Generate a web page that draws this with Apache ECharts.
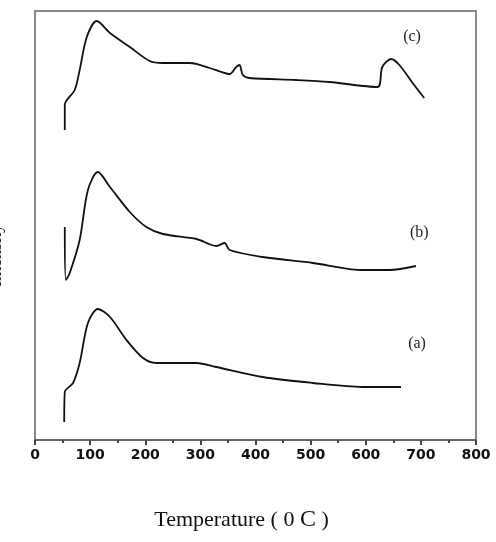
<!DOCTYPE html>
<html>
<head>
<meta charset="utf-8">
<script src="https://cdn.jsdelivr.net/npm/echarts@6/dist/echarts.min.js"></script>
<style>
html, body { margin: 0; padding: 0; background: #fff; }
#chart { width: 496px; height: 542px; }
</style>
</head>
<body>
<div id="chart"></div>
<script>
// temperatures (deg C) and intensity (arbitrary units)
var cTemp = [54, 54, 72, 81, 94, 112, 136, 172, 208, 232, 281, 317, 353, 365, 371, 377, 389, 474, 534, 621, 630, 646, 661, 685, 706]
var cInt = [310, 335, 350, 370, 403, 419, 407, 393, 379, 377, 377, 372, 366, 373, 375, 365, 362, 360, 358, 353, 373, 381, 375, 357, 342]

var bTemp = [54, 56, 63, 81, 96, 114, 136, 172, 202, 232, 293, 329, 344, 353, 413, 504, 594, 643, 691]
var bInt = [213, 160, 167, 200, 250, 268, 253, 228, 213, 206, 201, 194, 197, 190, 183, 177, 170, 170, 174]

var aTemp = [53, 54, 69, 81, 96, 114, 136, 166, 196, 220, 293, 329, 413, 504, 594, 664]
var aInt = [18, 48, 57, 77, 117, 131, 123, 100, 82, 77, 77, 73, 63, 57, 53, 53]

var curveNames = ['(a)', '(b)', '(c)']
var labelPos = [[693, 96], [697, 207], [684, 403]] // where the (a)/(b)/(c) tags sit

function pairs(xs, ys) {
    return xs.map(function(x, i) { return [x, ys[i]] })
}

var curves = [pairs(aTemp, aInt), pairs(bTemp, bInt), pairs(cTemp, cInt)]

var series = curves.map(function(d, i) {
    return {
        name: curveNames[i],
        type: 'line',
        data: d,
        smooth: 0.3,
        symbol: 'none',
        lineStyle: { color: '#111', width: 1.8 },
        markPoint: {
            symbol: 'circle',
            symbolSize: 0,
            silent: true,
            data: [{ coord: labelPos[i] }],
            label: {
                show: true,
                formatter: curveNames[i],
                position: 'inside',
                color: '#222',
                fontFamily: 'Liberation Serif',
                fontSize: 16
            }
        }
    }
})

var myChart = echarts.init(document.getElementById('chart'))
myChart.setOption({
    animation: false,
    backgroundColor: '#fff',
    grid: {
        left: 35,
        right: 20,
        top: 11,
        bottom: 102,
        outerBoundsMode: 'none',
        containLabel: false,
        show: true,
        borderColor: '#888',
        borderWidth: 2
    },
    xAxis: {
        type: 'value',
        min: 0,
        max: 800,
        interval: 100,
        name: '{t|Temperature ( 0 }{c|C}{t| )}',
        nameLocation: 'middle',
        nameGap: 68,
        nameTextStyle: {
            padding: [0, 28, 0, 0],
            rich: {
                t: { fontFamily: 'Liberation Serif', fontSize: 22, color: '#111' },
                c: { fontFamily: 'Liberation Serif', fontSize: 24, color: '#111' }
            }
        },
        axisLine: { lineStyle: { color: '#666', width: 2 } },
        axisTick: { length: 5, lineStyle: { color: '#444', width: 2 } },
        minorTick: { show: true, splitNumber: 2, length: 3, lineStyle: { color: '#444', width: 2 } },
        axisLabel: {
            margin: 8,
            color: '#111',
            fontFamily: 'DejaVu Sans',
            fontWeight: 'bold',
            fontSize: 14
        },
        splitLine: { show: false }
    },
    yAxis: {
        type: 'value',
        min: 0,
        max: 429,
        name: 'Intensity',
        nameLocation: 'middle',
        nameGap: 30,
        nameTextStyle: {
            fontFamily: 'Liberation Serif',
            fontSize: 18,
            color: '#111',
            padding: [0, 60, 0, 0]
        },
        axisLine: { show: true, lineStyle: { color: '#888', width: 2 } },
        axisTick: { show: false },
        axisLabel: { show: false },
        splitLine: { show: false }
    },
    series: series
})
</script>
</body>
</html>
